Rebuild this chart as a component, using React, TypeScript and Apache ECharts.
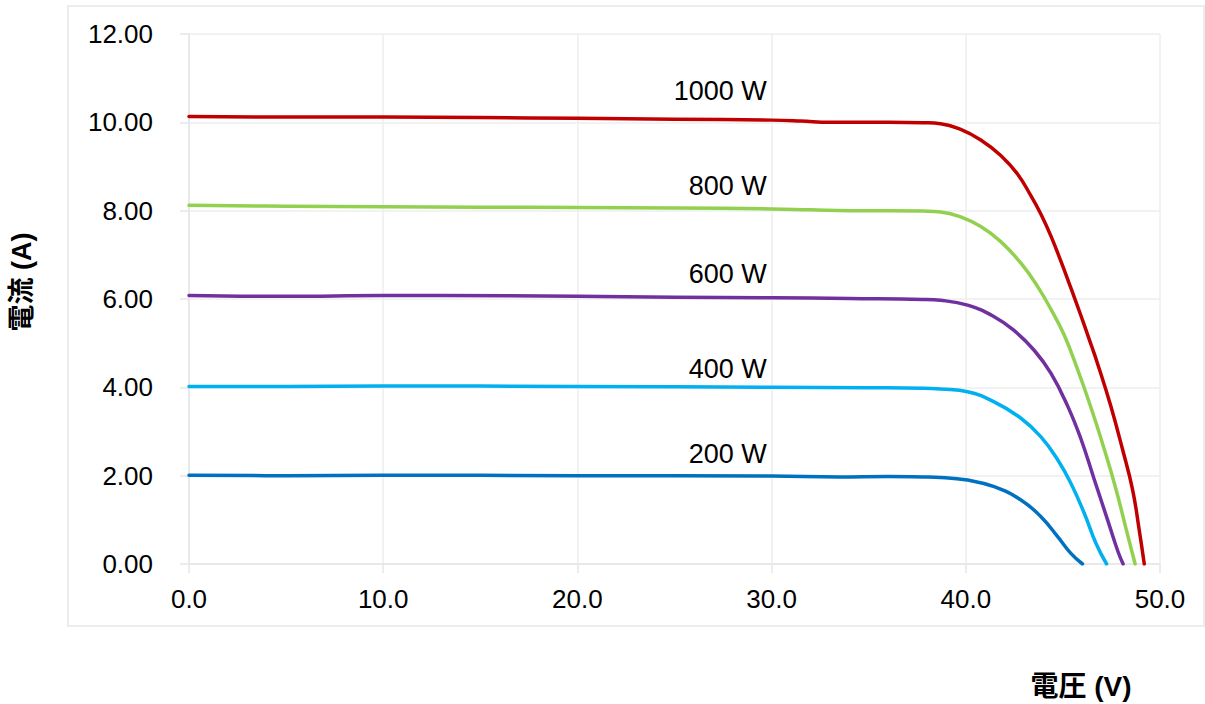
import React, { useEffect, useRef } from "react";
import * as echarts from "echarts";

const seriesNames = ["1000 W", "800 W", "600 W", "400 W", "200 W"];
const seriesColors = ["#C00000", "#92D050", "#7030A0", "#00B0F0", "#0070C0"];

const curve1000: number[][] = [
  [0, 10.13], [5, 10.12], [10, 10.12], [15, 10.11], [20, 10.09], [25, 10.07], [30, 10.05],
  [31.5, 10.03], [33, 10.0], [36, 10.0], [37.8, 9.99], [38.7, 9.97], [39.74, 9.84], [40.77, 9.6],
  [41.8, 9.25], [42.66, 8.83], [43.35, 8.34], [43.87, 7.92], [44.38, 7.43], [44.9, 6.85],
  [45.41, 6.25], [45.93, 5.62], [46.36, 5.08], [46.79, 4.53], [47.47, 3.57], [48.08, 2.58],
  [48.59, 1.68], [48.93, 0.77], [49.19, 0],
];
const curve800: number[][] = [
  [0, 8.12], [5, 8.1], [10, 8.09], [15, 8.08], [20, 8.07], [25, 8.06], [30, 8.04], [32, 8.02],
  [34, 8.0], [36, 8.0], [37.8, 7.99], [38.7, 7.97], [39.74, 7.86], [40.77, 7.64], [41.8, 7.3],
  [42.84, 6.81], [43.7, 6.28], [44.38, 5.77], [45.05, 5.2], [45.76, 4.4], [46.44, 3.55],
  [47.13, 2.6], [47.73, 1.7], [48.25, 0.8], [48.72, 0],
];
const curve600: number[][] = [
  [0, 6.08], [5, 6.06], [10, 6.08], [13, 6.08], [20, 6.06], [25, 6.04], [30, 6.03], [34, 6.01],
  [37.8, 5.99], [38.7, 5.97], [40.09, 5.86], [41.46, 5.6], [42.45, 5.3], [43.52, 4.84],
  [44.38, 4.32], [45.24, 3.58], [45.93, 2.83], [46.61, 1.92], [47.3, 1.0], [47.82, 0.3],
  [48.1, 0],
];
const curve400: number[][] = [
  [0, 4.02], [5, 4.02], [10, 4.03], [20, 4.02], [30, 4.0], [35, 3.99], [37.8, 3.98],
  [38.71, 3.96], [40.09, 3.9], [41.46, 3.67], [42.84, 3.3], [43.87, 2.88], [44.73, 2.36],
  [45.41, 1.83], [46.1, 1.15], [46.7, 0.47], [47.25, 0],
];
const curve200: number[][] = [
  [0, 2.01], [5, 2.0], [10, 2.01], [20, 2.0], [30, 1.99], [33.5, 1.97], [36, 1.98], [37.8, 1.97],
  [38.71, 1.96], [40.09, 1.9], [41.46, 1.75], [42.84, 1.45], [43.87, 1.07], [44.73, 0.62],
  [45.41, 0.24], [46.01, 0],
];
const curves = [curve1000, curve800, curve600, curve400, curve200];

// label anchor positions (right edge of text, vertical centre)
const labelX = 29.75;
const labelY = [10.72, 8.56, 6.57, 4.41, 2.49];

const xTitle = "電圧 (V)";
const yTitle = "電流 (A)";

const FONT = "'Liberation Sans', Arial, sans-serif";
const CJK = "'Liberation Sans', Arial, 'Noto Sans CJK JP', sans-serif";

export default function App() {
  const ref = useRef<HTMLDivElement>(null);
  useEffect(() => {
    document.body.style.margin = "0";
    if (!ref.current) return;
    const chart = echarts.init(ref.current, null, { renderer: "svg" });
    const lineSeries = curves.map((c, i) => ({
      type: "line",
      name: seriesNames[i],
      data: c,
      smooth: 0.45,
      showSymbol: false,
      symbol: "none",
      lineStyle: { color: seriesColors[i], width: 3.5, cap: "round", join: "round" },
      z: 3,
    }));
    const labelSeries = {
      type: "scatter",
      symbolSize: 0,
      data: labelY.map((y, i) => ({ value: [labelX, y], name: seriesNames[i] })),
      label: {
        show: true,
        position: "left",
        distance: 0,
        formatter: (p: any) => p.name,
        color: "#000",
        opacity: 1,
        fontSize: 27,
        fontFamily: FONT,
      },
      itemStyle: { opacity: 1 },
      silent: true,
      z: 4,
    };
    chart.setOption({
      animation: false,
      backgroundColor: "#fff",
      grid: { left: 189, right: 45, top: 34, bottom: 140 },
      xAxis: {
        type: "value",
        min: 0,
        max: 50,
        interval: 10,
        axisLine: { show: true, lineStyle: { color: "#E6E6E6", width: 1.5 } },
        axisTick: { show: true, length: 9, lineStyle: { color: "#E6E6E6", width: 1.5 } },
        splitLine: { show: true, lineStyle: { color: "#EEEEEE", width: 1.5 } },
        axisLabel: {
          color: "#000",
          fontSize: 26,
          fontFamily: FONT,
          margin: 22,
          formatter: (v: number) => v.toFixed(1),
        },
      },
      yAxis: {
        type: "value",
        min: 0,
        max: 12,
        interval: 2,
        axisLine: { show: true, lineStyle: { color: "#E6E6E6", width: 1.5 } },
        axisTick: { show: true, length: 9, lineStyle: { color: "#E6E6E6", width: 1.5 } },
        splitLine: { show: true, lineStyle: { color: "#EEEEEE", width: 1.5 } },
        axisLabel: {
          color: "#000",
          fontSize: 26,
          fontFamily: FONT,
          margin: 36,
          formatter: (v: number) => v.toFixed(2),
        },
      },
      graphic: [
        {
          type: "rect",
          shape: { x: 68, y: 6, width: 1136, height: 620 },
          style: { fill: "none", stroke: "#E6E6E6", lineWidth: 1.5 },
          silent: true,
          z: -10,
        },
        {
          type: "text",
          x: 1081,
          y: 686,
          style: {
            text: xTitle,
            fill: "#000",
            font: `bold 28px ${CJK}`,
            align: "center",
            verticalAlign: "middle",
          },
        },
        {
          type: "text",
          x: 22,
          y: 282,
          rotation: Math.PI / 2,
          style: {
            text: yTitle,
            fill: "#000",
            font: `bold 27px ${CJK}`,
            align: "center",
            verticalAlign: "middle",
          },
        },
      ],
      series: [...lineSeries, labelSeries],
    });
    return () => chart.dispose();
  }, []);
  return <div ref={ref} style={{ width: 1205, height: 704 }} />;
}
